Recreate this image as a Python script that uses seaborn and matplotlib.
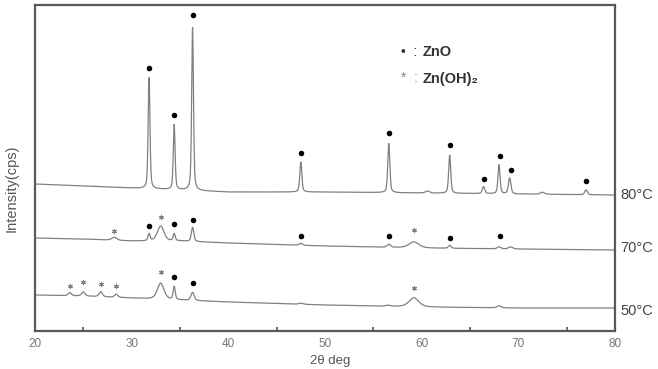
import numpy as np
import pandas as pd
import matplotlib
matplotlib.use("Agg")
import matplotlib.pyplot as plt
import seaborn as sns

# ---- data (intensity in arbitrary cps units) ----
grid = np.arange(20.0, 80.0001, 0.02)

# baseline anchor points (2theta, intensity)
base_x = [20, 25, 30, 35, 40, 50, 60, 70, 80]
base_80 = [147, 145, 143, 141, 139, 139, 138, 137, 136]
base_70 = [93, 92, 90, 90, 88, 85, 83, 82, 81]
base_50 = [36, 35, 33, 31, 29, 26, 24, 23, 23]

# peaks: position, height above baseline, FWHM
pk_pos_80 = [31.8, 34.4, 36.3, 47.5, 56.6, 60.6, 62.9, 66.4, 68.0, 69.1, 72.5, 77.0]
pk_h_80 = [111, 65, 163, 30, 49, 2, 38, 7, 29, 16, 2, 5]
pk_w_80 = [0.22, 0.22, 0.22, 0.25, 0.25, 0.5, 0.25, 0.3, 0.25, 0.3, 0.5, 0.3]

pk_pos_70 = [28.2, 31.8, 33.0, 34.4, 36.3, 47.5, 56.6, 59.2, 62.9, 68.0, 69.2]
pk_h_70 = [3, 7, 15, 7, 14, 2, 3, 6, 3, 2, 2]
pk_w_70 = [0.6, 0.25, 0.8, 0.25, 0.3, 0.4, 0.4, 1.2, 0.3, 0.4, 0.5]

pk_pos_50 = [23.6, 25.0, 26.8, 28.4, 33.0, 34.4, 36.3, 47.5, 56.5, 59.2, 68.0]
pk_h_50 = [3, 4, 5, 3, 16, 13, 8, 1, 1, 9, 2]
pk_w_50 = [0.4, 0.4, 0.4, 0.4, 0.8, 0.25, 0.4, 0.5, 0.5, 1.2, 0.5]

# phase markers (2theta, intensity)
dot_x_80 = [31.8, 34.4, 36.3, 47.5, 56.6, 62.9, 66.4, 68.1, 69.2, 77.0]
dot_y_80 = [263, 216, 316, 178, 198, 186, 152, 175, 161, 150]
dot_x_70 = [31.8, 34.4, 36.3, 47.5, 56.6, 62.9, 68.1]
dot_y_70 = [105, 107, 111, 95, 95, 93, 95]
star_x_70 = [28.2, 33.0, 59.2]
star_y_70 = [100, 114, 101]
dot_x_50 = [34.4, 36.3]
dot_y_50 = [54, 48]
star_x_50 = [23.6, 25.0, 26.8, 28.4, 33.0, 59.2]
star_y_50 = [45, 49, 47, 45, 59, 43]

series_labels = ["80°C", "70°C", "50°C"]
x_ticks = [20, 30, 40, 50, 60, 70, 80]


def pattern(base, pos, h, w):
    y = np.interp(grid, base_x, base)
    for p, a, fw in zip(pos, h, w):
        g = 0.5 * fw
        lor = g ** 2 / ((grid - p) ** 2 + g ** 2)
        gau = np.exp(-4 * np.log(2) * ((grid - p) / fw) ** 2)
        y = y + a * (0.55 * gau + 0.45 * lor)
    return y


curves = {
    "80°C": pattern(base_80, pk_pos_80, pk_h_80, pk_w_80),
    "70°C": pattern(base_70, pk_pos_70, pk_h_70, pk_w_70),
    "50°C": pattern(base_50, pk_pos_50, pk_h_50, pk_w_50),
}
df = pd.concat(
    [pd.DataFrame({"two_theta": grid, "intensity": v, "sample": k}) for k, v in curves.items()],
    ignore_index=True,
)

sns.set_theme(style="white")
plt.rcParams["font.family"] = ["Liberation Sans", "DejaVu Sans"]

W, H = 658, 369
fig = plt.figure(figsize=(W / 100, H / 100), dpi=100)
ax = fig.add_axes([35 / W, (H - 331) / H, (615 - 35) / W, (331 - 5) / H])

sns.lineplot(data=df, x="two_theta", y="intensity", hue="sample",
             palette=["#808080"] * 3, linewidth=0.9, ax=ax, legend=False,
             estimator=None, sort=False)

dx = dot_x_80 + dot_x_70 + dot_x_50
dy = dot_y_80 + dot_y_70 + dot_y_50
sx = star_x_70 + star_x_50
sy = star_y_70 + star_y_50
sns.scatterplot(x=dx, y=dy, ax=ax, color="black", s=16, marker="o",
                edgecolor="black", linewidth=0, zorder=5)
sns.scatterplot(x=sx, y=sy, ax=ax, color="#808080", s=11, marker=(6, 2, 0),
                linewidth=0.7, zorder=5)

ax.set_xlim(20, 80)
ax.set_ylim(0, 326)
ax.set_xticks(x_ticks)
ax.set_xticks(np.arange(25, 80, 10), minor=True)
ax.set_yticks([])
ax.set_xlabel("")
ax.set_ylabel("")
ax.tick_params(axis="x", which="major", direction="in", length=5, width=1.2,
               colors="#555555", labelcolor="#777777", labelsize=8.5, pad=5,
               top=False)
ax.tick_params(axis="x", which="minor", direction="in", length=3, width=1.2,
               colors="#555555", bottom=True, top=False)
for sp in ax.spines.values():
    sp.set_color("#5a5a5a")
    sp.set_linewidth(1.6)

# temperature labels at right
lab_y = [195, 248, 311]
for lab, yp in zip(series_labels, lab_y):
    fig.text(620 / W, (H - yp) / H, lab, fontsize=10.5, color="#444444",
             ha="left", va="center")

# phase key
fig.text(401 / W, (H - 52) / H, "•  :", fontsize=10, color="#333333",
         ha="left", va="center")
fig.text(423 / W, (H - 52) / H, "ZnO", fontsize=10.5, fontweight="bold",
         color="#333333", ha="left", va="center")
fig.text(401 / W, (H - 78) / H, "*  :", fontsize=10, color="#888888",
         ha="left", va="center")
fig.text(423 / W, (H - 79) / H, "Zn(OH)₂", fontsize=10.5, fontweight="bold",
         color="#333333", ha="left", va="center")

fig.text(12 / W, (H - 188) / H, "Intensity(cps)", rotation=90, fontsize=10.5,
         color="#555555", ha="center", va="center")
fig.text(330 / W, (H - 355) / H, "2θ deg", fontsize=9.5, color="#555555",
         ha="center", va="top")

fig.savefig("out.png", dpi=100)
